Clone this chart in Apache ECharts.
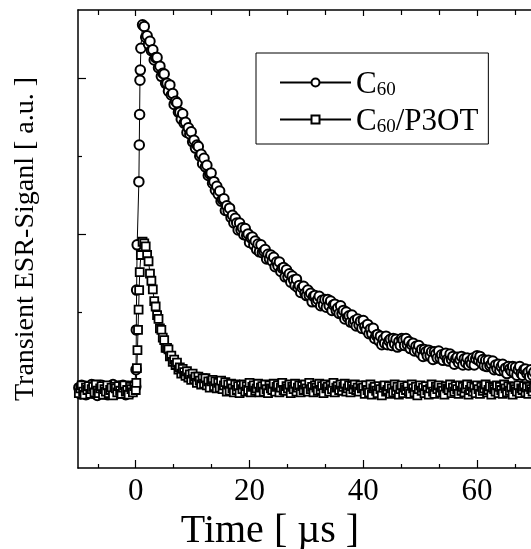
<!DOCTYPE html>
<html>
<head>
<meta charset="utf-8">
<script src="https://cdn.jsdelivr.net/npm/echarts@6/dist/echarts.min.js"></script>
<style>
html,body{margin:0;padding:0;background:#fff;}
#chart{width:531px;height:549px;}
</style>
</head>
<body>
<div id="chart"></div>
<script>
// ---- data ----
const seriesNames = ['C60', 'C60/P3OT'];
const xMajorTicks = [0, 20, 40, 60];
const xMinorTicks = [-6.67, 6.67, 13.33, 26.67, 33.33, 46.67, 53.33, 66.67];
const yMajorTicks = [0, 2, 4];
const yMinorTicks = [1, 3];

// sampling grid: baseline from -10 to 0, decay from 1.5 to 70 (step 0.25 µs)
const baseStart = -10, decayStart = 1.5, sampleStep = 0.25;

// C60
const c60Baseline = [0.03,-0.05,0.06,-0.01,0.02,-0.06,0.04,0.00,-0.03,0.07,
  -0.04,0.01,0.05,-0.07,0.02,-0.02,0.06,-0.05,0.00,0.03,
  -0.06,0.04,0.01,-0.03,0.07,-0.01,-0.05,0.02,0.05,-0.04,
  0.00,0.06,-0.02,-0.06,0.03,0.01,-0.04,0.05,-0.01,0.02,0.04];
const c60RiseT = [0.05,0.1,0.15,0.25,0.55,0.62,0.68,0.74,0.8,0.9,1.2];
const c60RiseV = [0.26,0.77,1.28,1.86,2.67,3.14,3.53,3.97,4.10,4.38,4.68];
const c60Decay = [
  4.66,4.52,4.54,4.43,4.47,4.35,4.36,4.23,4.26,4.26,
  4.13,4.15,4.02,4.06,4.05,3.93,3.93,3.83,3.91,3.78,
  3.80,3.66,3.70,3.68,3.56,3.56,3.47,3.54,3.42,3.43,
  3.30,3.36,3.28,3.31,3.18,3.20,3.10,3.14,3.12,3.00,
  3.02,2.90,2.97,2.86,2.88,2.75,2.77,2.78,2.65,2.67,
  2.56,2.61,2.51,2.55,2.42,2.44,2.45,2.30,2.36,2.29,
  2.33,2.21,2.24,2.14,2.20,2.14,2.05,2.14,2.05,2.08,
  1.99,2.07,1.98,2.00,1.89,1.95,1.96,1.86,1.91,1.80,
  1.87,1.77,1.86,1.76,1.78,1.80,1.68,1.74,1.68,1.73,
  1.65,1.70,1.58,1.64,1.59,1.64,1.52,1.56,1.57,1.45,
  1.54,1.45,1.49,1.38,1.46,1.41,1.34,1.42,1.31,1.34,
  1.25,1.31,1.33,1.24,1.21,1.28,1.21,1.24,1.13,1.20,
  1.21,1.13,1.16,1.20,1.08,1.15,1.09,1.16,1.06,1.16,
  1.08,1.14,1.02,1.09,1.10,1.02,1.05,0.98,1.08,0.98,
  1.02,0.91,1.00,0.93,0.95,0.87,0.96,0.86,0.89,0.82,
  0.91,0.83,0.88,0.79,0.89,0.81,0.77,0.84,0.72,0.78,
  0.72,0.79,0.66,0.70,0.71,0.63,0.69,0.58,0.65,0.60,
  0.69,0.58,0.63,0.65,0.57,0.66,0.59,0.65,0.55,0.62,
  0.57,0.66,0.64,0.57,0.66,0.58,0.62,0.53,0.58,0.60,
  0.50,0.56,0.51,0.57,0.47,0.52,0.43,0.52,0.49,0.44,
  0.51,0.44,0.49,0.39,0.49,0.46,0.41,0.50,0.41,0.45,
  0.38,0.45,0.47,0.39,0.37,0.46,0.39,0.43,0.33,0.40,
  0.42,0.35,0.39,0.43,0.32,0.40,0.35,0.41,0.32,0.37,
  0.34,0.41,0.32,0.40,0.44,0.38,0.43,0.35,0.39,0.31,
  0.38,0.30,0.38,0.31,0.33,0.37,0.26,0.32,0.27,0.33,
  0.25,0.30,0.33,0.24,0.28,0.21,0.30,0.27,0.24,0.30,
  0.22,0.29,0.19,0.26,0.30,0.21,0.19,0.26,0.27,0.21,
  0.23,0.17,0.26,0.19,0.23];

// C60/P3OT
const p3otBaseline = [-0.04,0.02,0.06,-0.02,-0.06,0.03,0.00,0.05,-0.05,0.01,
  0.04,-0.03,0.07,-0.01,-0.04,0.02,0.05,-0.06,0.01,-0.02,
  0.06,-0.04,0.00,0.03,-0.07,0.04,0.02,-0.03,0.05,-0.01,
  -0.05,0.03,0.06,-0.02,0.00,-0.06,0.04,0.01,-0.03,0.05,0.00];
const p3otRiseT = [0.1,0.2,0.3,0.4,0.5,0.6,0.7,0.9,1.2];
const p3otRiseV = [0.09,0.28,0.51,0.77,1.03,1.28,1.51,1.73,1.90];
const p3otDecay = [
  1.88,1.84,1.73,1.65,1.49,1.40,1.29,1.14,1.07,0.96,
  0.91,0.79,0.77,0.67,0.64,0.54,0.54,0.52,0.43,0.44,
  0.36,0.39,0.32,0.35,0.26,0.29,0.21,0.27,0.23,0.18,
  0.24,0.16,0.20,0.13,0.21,0.14,0.17,0.09,0.17,0.12,
  0.07,0.15,0.08,0.15,0.06,0.11,0.03,0.11,0.13,0.05,
  0.11,0.02,0.09,0.03,0.12,0.01,0.06,0.10,-0.02,0.07,
  -0.01,0.08,0.02,-0.03,0.07,0.00,0.05,-0.04,0.06,0.01,
  0.07,-0.02,0.05,0.00,0.09,-0.03,0.04,0.06,-0.01,0.02,
  0.08,-0.03,0.03,0.05,-0.02,0.07,0.01,-0.04,0.06,0.02,
  0.00,0.08,-0.02,0.04,0.06,-0.03,0.03,0.09,0.00,-0.01,
  0.05,0.02,0.07,-0.04,0.04,0.01,0.08,-0.02,0.03,0.06,
  -0.03,0.05,0.00,0.07,0.02,-0.02,0.09,0.01,0.04,-0.03,
  0.06,0.03,-0.01,0.08,0.00,0.05,-0.04,0.07,0.02,0.04,
  -0.02,0.06,0.01,0.09,-0.03,0.03,0.05,0.00,0.07,-0.01,
  0.04,0.08,-0.02,0.02,0.06,-0.03,0.05,0.01,0.07,0.00,
  0.03,-0.02,0.06,0.02,
  0.03,-0.05,0.06,0.00,-0.03,0.07,-0.06,0.02,0.04,-0.01,
  -0.04,0.05,0.01,-0.07,0.03,0.06,-0.02,0.00,0.05,-0.05,
  0.02,-0.03,0.07,-0.01,0.04,-0.06,0.01,0.06,-0.04,0.03,
  0.00,0.05,-0.02,-0.05,0.07,0.02,-0.03,0.04,-0.07,0.01,
  0.06,-0.01,0.03,-0.04,0.05,0.00,-0.06,0.02,0.07,-0.02,
  -0.05,0.04,0.01,0.06,-0.03,0.03,-0.01,-0.06,0.05,0.02,
  0.00,0.07,-0.04,0.03,-0.02,0.05,0.01,-0.05,0.06,-0.01,
  0.04,-0.03,0.02,0.07,-0.06,0.00,0.05,-0.02,0.03,-0.04,
  0.06,0.01,-0.05,0.04,-0.01,0.02,0.07,-0.03,0.00,0.05,
  -0.06,0.03,0.01,-0.02,0.06,-0.04,0.04,0.00,-0.05,0.07,
  0.02,-0.03,0.05,-0.01,0.03,-0.06,0.04,0.01,-0.02,0.06,
  -0.04,0.02,0.00,0.05,-0.03,0.03,-0.05,0.04,0.01,-0.02,
  0.03];

function build(base, riseT, riseV, decay) {
  const out = [];
  base.forEach((v, i) => out.push([baseStart + i * sampleStep, v]));
  riseT.forEach((t, i) => out.push([t, riseV[i]]));
  decay.forEach((v, i) => out.push([decayStart + i * sampleStep, v]));
  return out;
}
const c60Data = build(c60Baseline, c60RiseT, c60RiseV, c60Decay);
const p3otData = build(p3otBaseline, p3otRiseT, p3otRiseV, p3otDecay);

// ---- chart ----
const FONT = 'Liberation Serif';
const chart = echarts.init(document.getElementById('chart'));
const xCommon = {type: 'value', min: -10.15, max: 70, gridIndex: 0, splitLine: {show: false}};
const yCommon = {type: 'value', min: -1, max: 4.87, gridIndex: 0, splitLine: {show: false}};
const blackLine = {color: '#000', width: 1.5};

chart.setOption({
  animation: false,
  backgroundColor: '#fff',
  grid: {left: 78, right: -3, top: 10, bottom: 81, containLabel: false, outerBoundsMode: 'none'},
  xAxis: [
    Object.assign({}, xCommon, {
      position: 'bottom',
      axisLine: {show: true, onZero: false, lineStyle: blackLine},
      axisTick: {show: true, inside: true, length: 8, customValues: xMajorTicks, lineStyle: {color: '#000', width: 1.2}},
      axisLabel: {show: true, customValues: xMajorTicks, fontFamily: FONT, fontSize: 31, color: '#000', margin: 8},
      name: 'Time [ µs ]', nameLocation: 'middle', nameGap: 38,
      nameTextStyle: {fontFamily: FONT, fontSize: 40, color: '#000', padding: [0, 72, 0, 0]}
    }),
    Object.assign({}, xCommon, {
      position: 'bottom',
      axisLine: {show: false, onZero: false},
      axisTick: {show: true, inside: true, length: 4, customValues: xMinorTicks, lineStyle: {color: '#000', width: 1.2}},
      axisLabel: {show: false}
    }),
    Object.assign({}, xCommon, {
      position: 'top',
      axisLine: {show: true, onZero: false, lineStyle: blackLine},
      axisTick: {show: true, inside: true, length: 6, customValues: xMajorTicks, lineStyle: {color: '#000', width: 1.2}},
      axisLabel: {show: false}
    }),
    Object.assign({}, xCommon, {
      position: 'top',
      axisLine: {show: false, onZero: false},
      axisTick: {show: true, inside: true, length: 5, customValues: xMinorTicks, lineStyle: {color: '#000', width: 1.2}},
      axisLabel: {show: false}
    })
  ],
  yAxis: [
    Object.assign({}, yCommon, {
      position: 'left',
      axisLine: {show: true, onZero: false, lineStyle: blackLine},
      axisTick: {show: true, inside: true, length: 8, customValues: yMajorTicks, lineStyle: {color: '#000', width: 1.2}},
      axisLabel: {show: false},
      name: 'Transient ESR-Siganl [ a.u. ]', nameLocation: 'middle', nameGap: 38,
      nameTextStyle: {fontFamily: FONT, fontSize: 28, color: '#000'}
    }),
    Object.assign({}, yCommon, {
      position: 'left',
      axisLine: {show: false, onZero: false},
      axisTick: {show: true, inside: true, length: 4, customValues: yMinorTicks, lineStyle: {color: '#000', width: 1.2}},
      axisLabel: {show: false}
    })
  ],
  legend: {
    left: 256, top: 53,
    orient: 'vertical',
    data: seriesNames,
    backgroundColor: '#fff',
    borderColor: '#000', borderWidth: 1,
    padding: [10, 10, 7, 23],
    itemGap: 0,
    itemWidth: 71, itemHeight: 10,
    formatter: function (name) {
      return name === 'C60' ? '{c|C}{s|60}' : '{c|C}{s|60}{c|/P3OT}';
    },
    textStyle: {
      color: '#000', fontFamily: FONT,
      rich: {
        c: {fontFamily: FONT, fontSize: 31, color: '#000', lineHeight: 35, verticalAlign: 'bottom'},
        s: {fontFamily: FONT, fontSize: 19, color: '#000', lineHeight: 20, padding: [18, 0, 0, 0], verticalAlign: 'bottom'}
      }
    }
  },
  series: [
    {
      name: 'C60', type: 'line', xAxisIndex: 0, yAxisIndex: 0,
      data: c60Data,
      symbol: 'circle', symbolSize: 9.5, showAllSymbol: true,
      lineStyle: {color: '#000', width: 1},
      itemStyle: {color: '#fff', borderColor: '#000', borderWidth: 2}
    },
    {
      name: 'C60/P3OT', type: 'line', xAxisIndex: 0, yAxisIndex: 0,
      data: p3otData,
      symbol: 'rect', symbolSize: 8, showAllSymbol: true,
      lineStyle: {color: '#000', width: 1},
      itemStyle: {color: '#fff', borderColor: '#000', borderWidth: 1.8}
    }
  ]
});
</script>
</body>
</html>
